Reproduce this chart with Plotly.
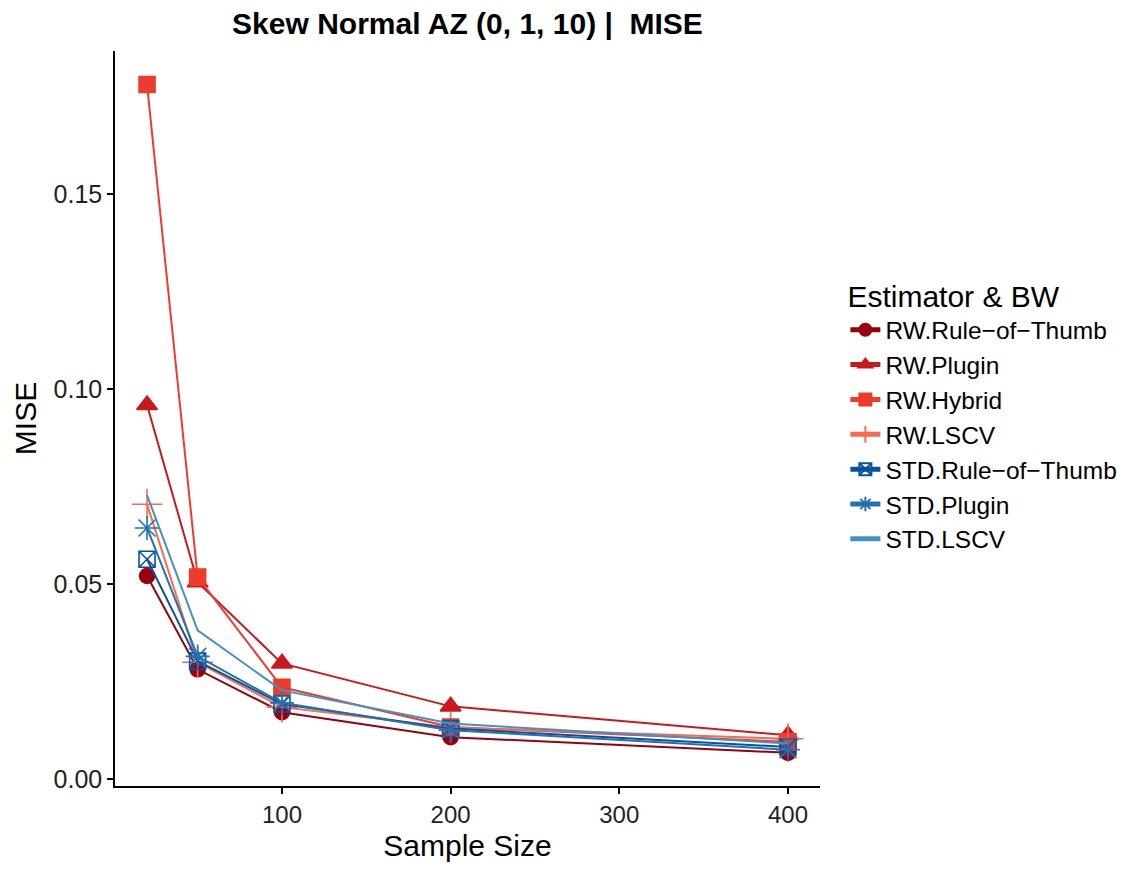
import plotly.graph_objects as go

sample_sizes = [20, 50, 100, 200, 400]

rw_rot = [0.0521, 0.0282, 0.0172, 0.0108, 0.0068]
rw_plugin = [0.0959, 0.0505, 0.0297, 0.0187, 0.0113]
rw_hybrid = [0.1780, 0.0518, 0.0236, 0.0134, 0.0096]
rw_lscv = [0.0705, 0.0300, 0.0185, 0.0133, 0.0104]
std_rot = [0.0564, 0.0303, 0.0193, 0.0130, 0.0083]
std_plugin = [0.0644, 0.0315, 0.0196, 0.0126, 0.0076]
std_lscv = [0.0728, 0.0382, 0.0228, 0.0143, 0.0092]

names = ["RW.Rule\u2212of\u2212Thumb", "RW.Plugin", "RW.Hybrid", "RW.LSCV",
         "STD.Rule\u2212of\u2212Thumb", "STD.Plugin", "STD.LSCV"]
series = [rw_rot, rw_plugin, rw_hybrid, rw_lscv, std_rot, std_plugin, std_lscv]
colors = ["#99000D", "#CB181D", "#EF3B2C", "#FB6A4A", "#08519C", "#2171B5", "#4292C6"]
symbols = ["circle", "triangle-up", "square", "cross-thin-open", "square-x-open",
           "asterisk-open", None]
sizes = [15, 18, 16, 22, 16, 20, 0]

fig = go.Figure()
for nm, ys, c, s, sz in zip(names, series, colors, symbols, sizes):
    if s is None:
        fig.add_trace(go.Scatter(x=sample_sizes, y=ys, name=nm, mode="lines",
                                 line=dict(color=c, width=2)))
    else:
        fig.add_trace(go.Scatter(x=sample_sizes, y=ys, name=nm, mode="lines+markers",
                                 line=dict(color=c, width=2),
                                 marker=dict(symbol=s, size=sz, color=c,
                                             line=dict(color=c, width=1.6))))

fig.update_layout(
    width=1142, height=869,
    paper_bgcolor="white", plot_bgcolor="white",
    margin=dict(l=115, r=322, t=51, b=83, autoexpand=False),
    font=dict(family="Liberation Sans, Arial, sans-serif", color="black", size=24),
    title=dict(text="<b>Skew Normal AZ (0, 1, 10) |  MISE</b>", x=467.5 / 1142,
               xanchor="center", y=1 - 23 / 869, yanchor="middle",
               font=dict(size=30, color="black")),
    legend=dict(title=dict(text="Estimator & BW", font=dict(size=30)),
                x=1.036, xanchor="left", y=0.505, yanchor="middle",
                font=dict(size=24.5), tracegroupgap=0, itemwidth=30,
                itemsizing="constant"),
    showlegend=True,
)
fig.update_xaxes(range=[1, 419], tickvals=[100, 200, 300, 400], showgrid=False,
                 zeroline=False, showline=True, linecolor="black", linewidth=1.5,
                 ticks="outside", ticklen=6, tickwidth=1.5, tickcolor="black",
                 tickfont=dict(size=24, color="#222"),
                 title=dict(text="Sample Size", font=dict(size=30), standoff=8))
fig.update_yaxes(range=[-0.0017, 0.1866], tickvals=[0, 0.05, 0.10, 0.15],
                 tickformat=".2f", showgrid=False, zeroline=False, showline=True,
                 linecolor="black", linewidth=1.5, ticks="outside", ticklen=6,
                 tickwidth=1.5, tickcolor="black", tickfont=dict(size=25, color="#222"),
                 title=dict(text="MISE", font=dict(size=30), standoff=8))

fig.write_html("out.html")
